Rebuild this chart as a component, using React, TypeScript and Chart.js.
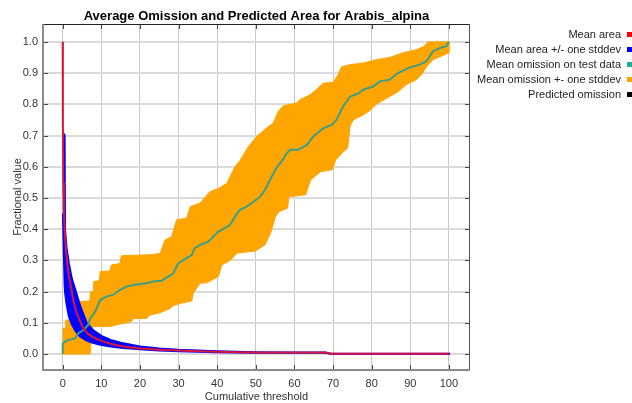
import React, { useEffect, useRef } from "react";
import { Chart, registerables } from "chart.js";

Chart.register(...registerables);

const titleText = "Average Omission and Predicted Area for Arabis_alpina";
const xAxisTitle = "Cumulative threshold";
const yAxisTitle = "Fractional value";

const xTickValues = [0, 10, 20, 30, 40, 50, 60, 70, 80, 90, 100];
const yTickValues = [0, 0.1, 0.2, 0.3, 0.4, 0.5, 0.6, 0.7, 0.8, 0.9, 1.0];

const legendLabels = [
  "Mean area",
  "Mean area +/- one stddev",
  "Mean omission on test data",
  "Mean omission +- one stddev",
  "Predicted omission",
];
const legendColors = ["#ff0000", "#0000ff", "#1aae9c", "#ffa500", "#000000"];

// Mean area (red)
const meanAreaX = [0, 0.05, 0.15, 0.3, 0.5, 0.8, 1.2, 1.6, 2.1, 2.9, 3.8, 5.1, 6.4, 8.1, 10, 12.4, 15, 17.6, 20.2, 25, 30, 35, 40, 45, 50, 60, 68, 69.5, 75, 100];
const meanAreaY = [1.0, 0.75, 0.55, 0.46, 0.4, 0.34, 0.29, 0.25, 0.217, 0.163, 0.125, 0.088, 0.066, 0.052, 0.042, 0.033, 0.026, 0.021, 0.018, 0.014, 0.011, 0.009, 0.007, 0.006, 0.005, 0.005, 0.005, 0.001, 0.001, 0.001];

// Mean area +/- one stddev (blue band)
const areaBandX = [0.05, 0.5, 0.6, 1.0, 1.6, 2.4, 3.4, 4.5, 6.2, 8, 10, 12.4, 15, 20, 25, 30, 40, 50, 60, 68, 69.5, 100];
const areaUpperY = [0.71, 0.7, 0.4, 0.34, 0.29, 0.24, 0.2, 0.155, 0.1, 0.075, 0.058, 0.045, 0.036, 0.024, 0.018, 0.014, 0.009, 0.006, 0.005, 0.005, 0.001, 0.001];
const areaLowerY = [0.45, 0.22, 0.2, 0.16, 0.12, 0.094, 0.072, 0.056, 0.043, 0.035, 0.029, 0.024, 0.02, 0.015, 0.011, 0.009, 0.006, 0.004, 0.004, 0.004, 0.0, 0.0];

// Mean omission on test data (teal)
const omissionX = [0, 0, 1, 3.2, 4, 5.4, 6.6, 7.1, 8.4, 9.7, 11.3, 13.1, 14.8, 16.5, 18.3, 21.7, 23.4, 25.6, 26.9, 28.6, 29.9, 31.2, 33.4, 34.2, 35.5, 37.7, 39, 40.3, 42, 43.3, 44.6, 45.9, 47.6, 48.9, 51.1, 52.4, 54.1, 55.4, 56.7, 58, 58.9, 61, 63.2, 64.9, 67.5, 69.6, 70.9, 72.6, 74.4, 76.5, 77.8, 80.4, 82.1, 84.7, 86.8, 89.4, 92.4, 94.2, 95.9, 97.6, 99.3, 100];
const omissionY = [0, 0.034, 0.043, 0.05, 0.066, 0.077, 0.093, 0.114, 0.135, 0.173, 0.184, 0.19, 0.205, 0.216, 0.221, 0.227, 0.232, 0.235, 0.245, 0.258, 0.29, 0.301, 0.317, 0.339, 0.349, 0.36, 0.376, 0.392, 0.403, 0.413, 0.44, 0.462, 0.472, 0.483, 0.504, 0.526, 0.568, 0.597, 0.618, 0.643, 0.654, 0.654, 0.67, 0.697, 0.723, 0.734, 0.75, 0.793, 0.825, 0.834, 0.847, 0.857, 0.873, 0.879, 0.9, 0.916, 0.927, 0.938, 0.97, 0.98, 0.986, 1.0];

// Mean omission +- one stddev (orange band)
const omissionUpperX = [0, 0.8, 0.8, 4.0, 4.2, 7.0, 7.2, 7.9, 8.0, 9.5, 9.7, 12.2, 12.6, 14.8, 15.2, 22.6, 25.2, 26.5, 28.2, 29.5, 32.1, 33, 35.5, 38.1, 40.3, 42.5, 44.6, 45.9, 48.1, 50.2, 52.4, 54.5, 55.8, 57.1, 60.6, 61.4, 64, 65.7, 67.5, 70, 71.3, 72.2, 74.4, 77.8, 81.2, 84.7, 88.1, 91.6, 93.5, 94.6, 100];
const omissionUpperY = [0.083, 0.083, 0.109, 0.109, 0.168, 0.17, 0.2, 0.2, 0.232, 0.235, 0.264, 0.266, 0.285, 0.29, 0.315, 0.318, 0.322, 0.365, 0.376, 0.43, 0.435, 0.472, 0.483, 0.52, 0.53, 0.547, 0.6, 0.62, 0.665, 0.697, 0.72, 0.74, 0.777, 0.795, 0.804, 0.815, 0.83, 0.847, 0.868, 0.87, 0.895, 0.92, 0.927, 0.932, 0.943, 0.95, 0.965, 0.975, 0.985, 1.0, 1.0];
const omissionLowerX = [0, 7.1, 7.7, 12.2, 14.8, 17.8, 18.3, 21.7, 22.6, 25.2, 27.8, 28.6, 30.4, 33.4, 33.8, 35.6, 37.3, 40.3, 41.2, 43.4, 45.1, 49.9, 52.4, 53.8, 55.1, 56, 58.2, 58.6, 62.9, 64.2, 66.8, 69.8, 70.7, 72.4, 73.8, 74.4, 75.2, 77.8, 79.5, 81.2, 84.7, 86.8, 89, 91.6, 92.9, 94.2, 95.9, 98, 100];
const omissionLowerY = [0, 0, 0.088, 0.088, 0.096, 0.104, 0.114, 0.114, 0.125, 0.132, 0.146, 0.155, 0.162, 0.17, 0.195, 0.227, 0.228, 0.248, 0.285, 0.3, 0.323, 0.33, 0.35, 0.387, 0.44, 0.456, 0.467, 0.504, 0.51, 0.558, 0.584, 0.59, 0.622, 0.645, 0.66, 0.73, 0.75, 0.766, 0.78, 0.8, 0.825, 0.84, 0.863, 0.879, 0.895, 0.92, 0.943, 0.954, 0.965];

const FONT = '"Liberation Sans", Arial, sans-serif';

const zip = (xs: number[], ys: number[]) => xs.map((x, i) => ({ x, y: ys[i] }));

const decorPlugin = {
  id: "decor",
  afterDraw(chart: any) {
    const ctx = chart.ctx as CanvasRenderingContext2D;
    const { left, right, top, bottom } = chart.chartArea;
    const xs = chart.scales.x;
    const ys = chart.scales.y;
    ctx.save();
    // frame
    ctx.fillStyle = "#222222";
    ctx.fillRect(left - 2, top - 1, right - left + 2, 1);
    ctx.fillStyle = "#555555";
    ctx.fillRect(right, top - 1, 1, bottom - top + 2);
    ctx.fillStyle = "#8a8a8a";
    ctx.fillRect(left - 2, top - 1, 2, bottom - top + 3);
    ctx.fillRect(left - 2, bottom, right - left + 3, 2);
    // inward ticks
    ctx.fillStyle = "#444444";
    for (const v of xTickValues) {
      const px = Math.round(xs.getPixelForValue(v));
      ctx.fillRect(px, top, 1, 4);
      ctx.fillRect(px, bottom - 4, 1, 4);
    }
    for (const v of yTickValues) {
      const py = Math.round(ys.getPixelForValue(v));
      ctx.fillRect(left, py, 4, 1);
      ctx.fillRect(right - 4, py, 4, 1);
    }
    // title
    ctx.fillStyle = "#000000";
    ctx.font = `bold 13px ${FONT}`;
    ctx.textAlign = "center";
    ctx.textBaseline = "alphabetic";
    ctx.fillText(titleText, (left + right) / 2, 20);
    // axis titles
    ctx.fillStyle = "#333333";
    ctx.font = `11px ${FONT}`;
    ctx.fillText(xAxisTitle, (left + right) / 2, 400);
    ctx.save();
    ctx.translate(21, (top + bottom) / 2);
    ctx.rotate(-Math.PI / 2);
    ctx.fillText(yAxisTitle, 0, 0);
    ctx.restore();
    // legend
    ctx.textAlign = "right";
    ctx.font = `11px ${FONT}`;
    legendLabels.forEach((label, i) => {
      const base = 38 + i * 15;
      ctx.fillStyle = "#222222";
      ctx.fillText(label, 621, base);
      ctx.fillStyle = legendColors[i];
      ctx.fillRect(627, base - 6, 6, 5);
    });
    ctx.restore();
  },
};

export default function App() {
  const ref = useRef<HTMLCanvasElement>(null);
  useEffect(() => {
    const canvas = ref.current;
    if (!canvas) return;
    const areaBand = [...zip(areaBandX, areaUpperY), ...zip(areaBandX, areaLowerY).reverse()];
    const omBand = [...zip(omissionUpperX, omissionUpperY), ...zip(omissionLowerX, omissionLowerY).reverse()];
    const chart = new Chart(canvas, {
      type: "line",
      data: {
        datasets: [
          { label: legendLabels[0], data: zip(meanAreaX, meanAreaY), borderColor: "#dc143c", borderWidth: 2, pointRadius: 0, fill: false, order: 0 },
          { label: legendLabels[2], data: zip(omissionX, omissionY), borderColor: "#3a9f88", borderWidth: 2, pointRadius: 0, fill: false, order: 1 },
          { label: legendLabels[1], data: areaBand, borderColor: "#0000ff", backgroundColor: "#0000ff", borderWidth: 2, pointRadius: 0, fill: "shape", order: 2 },
          { label: legendLabels[3], data: omBand, borderColor: "#ffa500", backgroundColor: "#ffa500", borderWidth: 1, pointRadius: 0, fill: "shape", order: 3 },
        ] as any,
      },
      options: {
        responsive: false,
        animation: false,
        devicePixelRatio: 1,
        layout: { padding: { top: 25, right: 163, left: 0, bottom: 0 } },
        plugins: { legend: { display: false }, title: { display: false }, tooltip: { enabled: false } },
        elements: { line: { tension: 0 } },
        scales: {
          x: {
            type: "linear",
            min: -4.84,
            max: 105.2,
            afterBuildTicks: (s: any) => { s.ticks = xTickValues.map((v) => ({ value: v })); },
            afterFit: (s: any) => { s.height = 34; },
            grid: { color: "#c8c8c8", lineWidth: 1, drawTicks: false },
            border: { display: false },
            ticks: { padding: 8, autoSkip: false, maxRotation: 0, color: "#333333", font: { family: FONT, size: 11 }, callback: (v: any) => String(v) },
          },
          y: {
            type: "linear",
            min: -0.048,
            max: 1.054,
            afterBuildTicks: (s: any) => { s.ticks = yTickValues.map((v) => ({ value: v })); },
            afterFit: (s: any) => { s.width = 44; },
            grid: { color: "#dadada", lineWidth: 2, drawTicks: false },
            border: { display: false },
            ticks: { padding: 6, autoSkip: false, color: "#333333", font: { family: FONT, size: 11 }, callback: (v: any) => Number(v).toFixed(1) },
          },
        },
      } as any,
      plugins: [decorPlugin],
    });
    return () => chart.destroy();
  }, []);
  return (
    <div style={{ position: "absolute", left: 0, top: 0, width: 632, height: 403, background: "#ffffff" }}>
      <canvas ref={ref} width={632} height={403} style={{ display: "block", width: 632, height: 403 }} />
    </div>
  );
}
